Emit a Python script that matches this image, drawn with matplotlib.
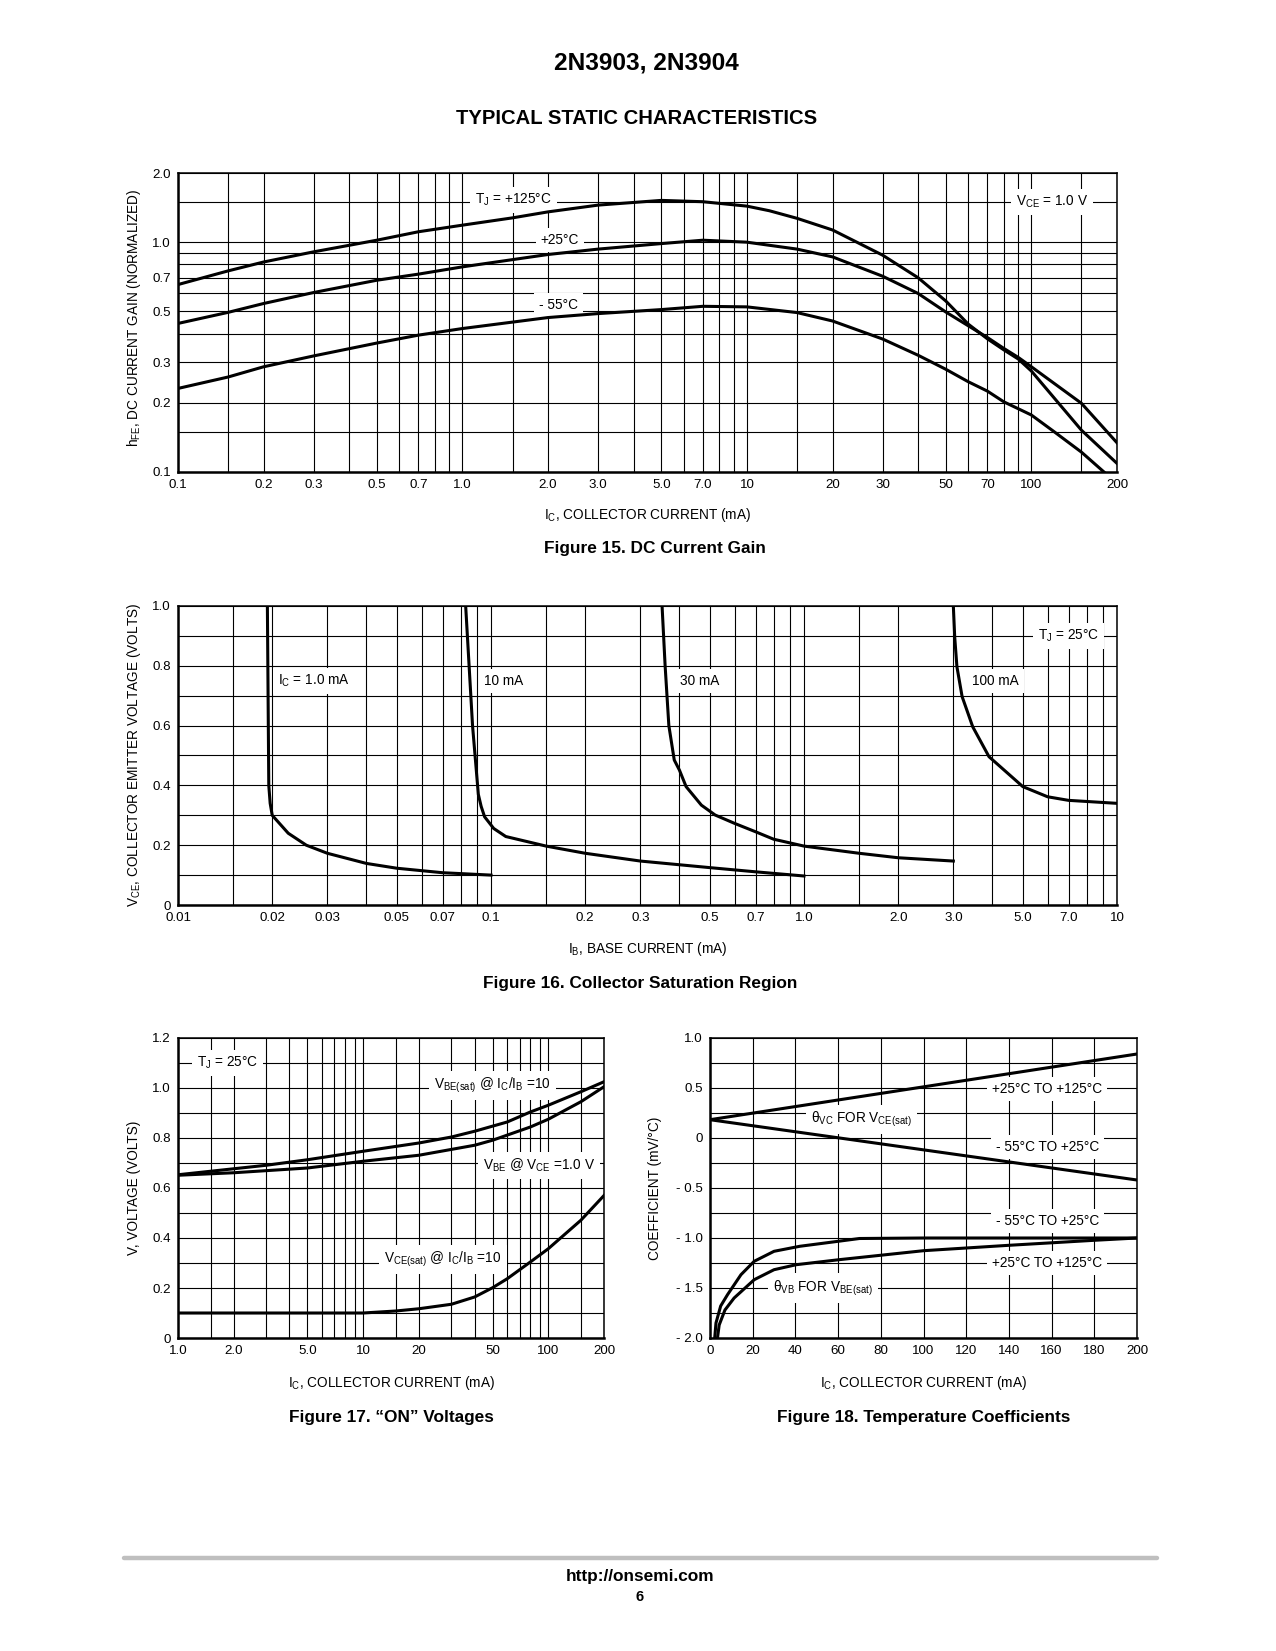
import matplotlib
matplotlib.use('Agg')
import matplotlib.pyplot as plt
from matplotlib import font_manager
from matplotlib.lines import Line2D
from matplotlib.ticker import NullFormatter

# ---------------- data ----------------
# Figure 15: DC current gain (normalized) vs collector current (mA)
ic15_125 = [0.1, 0.15, 0.2, 0.3, 0.5, 0.7, 1.0, 1.5, 2.0, 3.0, 5.0, 7.0, 10, 12, 15, 20, 30, 40, 50, 60, 70, 80, 90, 100, 150, 200]
hfe15_125 = [0.654, 0.75, 0.82, 0.908, 1.02, 1.11, 1.186, 1.276, 1.355, 1.45, 1.52, 1.50, 1.435, 1.37, 1.27, 1.13, 0.878, 0.70, 0.555, 0.44, 0.38, 0.34, 0.31, 0.275, 0.152, 0.109]
ic15_25 = [0.1, 0.15, 0.2, 0.3, 0.5, 0.7, 1.0, 2.0, 3.0, 5.0, 7.0, 10, 15, 20, 30, 40, 50, 70, 80, 90, 100, 150, 200]
hfe15_25 = [0.443, 0.495, 0.541, 0.604, 0.683, 0.726, 0.781, 0.884, 0.933, 0.986, 1.02, 1.00, 0.933, 0.863, 0.711, 0.598, 0.497, 0.385, 0.345, 0.315, 0.287, 0.199, 0.134]
ic15_m55 = [0.1, 0.15, 0.2, 0.3, 0.5, 0.7, 1.0, 2.0, 3.0, 5.0, 7.0, 10, 15, 20, 30, 40, 50, 60, 70, 80, 100, 120, 150, 180]
hfe15_m55 = [0.231, 0.259, 0.287, 0.320, 0.364, 0.394, 0.421, 0.470, 0.489, 0.509, 0.526, 0.523, 0.494, 0.454, 0.379, 0.322, 0.28, 0.247, 0.225, 0.202, 0.177, 0.150, 0.122, 0.100]
x15_ticks = [0.1, 0.2, 0.3, 0.5, 0.7, 1.0, 2.0, 3.0, 5.0, 7.0, 10, 20, 30, 50, 70, 100, 200]
x15_labels = ['0.1', '0.2', '0.3', '0.5', '0.7', '1.0', '2.0', '3.0', '5.0', '7.0', '10', '20', '30', '50', '70', '100', '200']
y15_ticks = [0.1, 0.2, 0.3, 0.5, 0.7, 1.0, 2.0]
y15_labels = ['0.1', '0.2', '0.3', '0.5', '0.7', '1.0', '2.0']
y15_grid = [0.1, 0.15, 0.2, 0.3, 0.4, 0.5, 0.6, 0.7, 0.8, 0.9, 1.0, 1.5, 2.0]

# Figure 16: V_CE (V) vs base current (mA)
ib16_1 = [0.0193, 0.0194, 0.0195, 0.0197, 0.020, 0.0225, 0.0257, 0.030, 0.040, 0.050, 0.070, 0.100]
vce16_1 = [1.0, 0.70, 0.40, 0.34, 0.30, 0.24, 0.20, 0.173, 0.139, 0.123, 0.108, 0.100]
ib16_10 = [0.083, 0.0873, 0.0911, 0.093, 0.0954, 0.102, 0.1115, 0.15, 0.2, 0.3, 0.5, 0.7, 1.0]
vce16_10 = [1.0, 0.60, 0.37, 0.33, 0.295, 0.256, 0.229, 0.197, 0.173, 0.147, 0.125, 0.111, 0.097]
ib16_30 = [0.352, 0.36, 0.37, 0.385, 0.40, 0.42, 0.47, 0.52, 0.6, 0.7, 0.8, 1.0, 1.5, 2.0, 3.0]
vce16_30 = [1.0, 0.80, 0.60, 0.485, 0.451, 0.396, 0.334, 0.301, 0.273, 0.245, 0.220, 0.197, 0.173, 0.158, 0.147]
ib16_100 = [3.0, 3.03, 3.08, 3.2, 3.46, 3.9, 5.0, 6.0, 7.0, 10.0]
vce16_100 = [1.0, 0.897, 0.797, 0.697, 0.596, 0.496, 0.396, 0.362, 0.35, 0.34]
x16_ticks = [0.01, 0.02, 0.03, 0.05, 0.07, 0.1, 0.2, 0.3, 0.5, 0.7, 1.0, 2.0, 3.0, 5.0, 7.0, 10]
x16_labels = ['0.01', '0.02', '0.03', '0.05', '0.07', '0.1', '0.2', '0.3', '0.5', '0.7', '1.0', '2.0', '3.0', '5.0', '7.0', '10']
y16_ticks = [0, 0.2, 0.4, 0.6, 0.8, 1.0]
y16_labels = ['0', '0.2', '0.4', '0.6', '0.8', '1.0']

# Figure 17: "ON" voltages vs collector current (mA)
ic17_vbesat = [1, 1.5, 3, 5, 10, 20, 30, 40, 60, 80, 100, 150, 200]
v17_vbesat = [0.653, 0.667, 0.691, 0.713, 0.747, 0.78, 0.804, 0.827, 0.864, 0.904, 0.931, 0.985, 1.025]
ic17_vbe = [1, 2, 5, 10, 20, 40, 50, 80, 100, 150, 200]
v17_vbe = [0.651, 0.661, 0.68, 0.707, 0.731, 0.771, 0.791, 0.844, 0.875, 0.945, 1.005]
ic17_vcesat = [1, 5, 10, 15, 20, 30, 40, 50, 60, 80, 100, 150, 200]
v17_vcesat = [0.10, 0.10, 0.10, 0.108, 0.117, 0.135, 0.164, 0.201, 0.237, 0.304, 0.357, 0.471, 0.57]
x17_ticks = [1.0, 2.0, 5.0, 10, 20, 50, 100, 200]
x17_labels = ['1.0', '2.0', '5.0', '10', '20', '50', '100', '200']
y17_ticks = [0, 0.2, 0.4, 0.6, 0.8, 1.0, 1.2]
y17_labels = ['0', '0.2', '0.4', '0.6', '0.8', '1.0', '1.2']

# Figure 18: temperature coefficients (mV/°C) vs collector current (mA)
ic18_vc = [0, 200]
th18_vc_hot = [0.183, 0.84]
th18_vc_cold = [0.183, -0.42]
ic18_vb_cold = [2.2, 2.8, 5, 8.2, 14.5, 20.7, 30, 42, 60, 70, 100, 150, 200]
th18_vb_cold = [-2.0, -1.85, -1.68, -1.567, -1.367, -1.233, -1.133, -1.083, -1.033, -1.005, -1.0, -1.0, -1.0]
ic18_vb_hot = [3.5, 4.3, 7, 11.3, 20.7, 30, 40.4, 60.4, 100, 140, 180, 200]
th18_vb_hot = [-2.0, -1.87, -1.72, -1.6, -1.417, -1.317, -1.267, -1.217, -1.127, -1.073, -1.023, -1.0]
x18_ticks = [0, 20, 40, 60, 80, 100, 120, 140, 160, 180, 200]
x18_labels = ['0', '20', '40', '60', '80', '100', '120', '140', '160', '180', '200']
y18_ticks = [-2.0, -1.5, -1.0, -0.5, 0, 0.5, 1.0]
y18_labels = ['- 2.0', '- 1.5', '- 1.0', '- 0.5', '0', '0.5', '1.0']

# ---------------- fonts ----------------
names = {f.name for f in font_manager.fontManager.ttflist}
NARROW = 'Liberation Sans Narrow' in names
BASE = 'Liberation Sans Narrow' if NARROW else 'Liberation Sans'
S = 1.2 if NARROW else 1.0
plt.rcParams['font.family'] = [BASE, 'DejaVu Sans']
FS_TICK = 9.6 * S
FS_LAB = 9.8 * S
FS_ANN = 9.8 * S
FS_CAP = 12.4 * S

W, H = 1276, 1651
DPI = 100
fig = plt.figure(figsize=(W / DPI, H / DPI), dpi=DPI)


def rect(l, t, r, b):
    return [l / W, 1 - b / H, (r - l) / W, (b - t) / H]


def fx(px):
    return px / W


def fy(py):
    return 1 - py / H


def decade_grid(lo, hi):
    vals = []
    d = lo
    while d < hi * 0.999:
        for m in [1, 1.5, 2, 3, 4, 5, 6, 7, 8, 9]:
            v = d * m
            if lo * 0.999 <= v <= hi * 1.001:
                vals.append(v)
        d *= 10
    vals.append(hi)
    return vals


def style(ax, xt, xl, xg, yt, yl, yg):
    ax.set_axisbelow(True)
    ax.set_xticks(xt)
    ax.set_xticklabels(xl)
    ax.set_xticks(xg, minor=True)
    ax.set_yticks(yt)
    ax.set_yticklabels(yl)
    ax.set_yticks(yg, minor=True)
    ax.xaxis.set_minor_formatter(NullFormatter())
    ax.yaxis.set_minor_formatter(NullFormatter())
    ax.grid(which='both', color='black', lw=0.8)
    ax.tick_params(which='both', length=0, labelsize=FS_TICK)
    ax.tick_params(axis='x', pad=5)
    ax.tick_params(axis='y', pad=5)
    for sp in ['left', 'bottom']:
        ax.spines[sp].set_linewidth(1.8)
    for sp in ['top', 'right']:
        ax.spines[sp].set_linewidth(1.1)


def curve(ax, x, y):
    ax.plot(x, y, color='black', lw=2.2, zorder=4, solid_joinstyle='round')


def lab(ax, x, y, s, ha='center'):
    ax.text(x, y, s, ha=ha, va='center', fontsize=FS_ANN, zorder=3,
            bbox=dict(facecolor='white', edgecolor='none', pad=3.5))


# titles
fig.text(fx(646), fy(63), '2N3903, 2N3904', ha='center', va='center',
         fontsize=17.6, fontweight='bold', family=['Liberation Sans', 'DejaVu Sans'])
fig.text(fx(637), fy(119), 'TYPICAL STATIC CHARACTERISTICS', ha='center', va='center',
         fontsize=14.6, fontweight='bold', family=['Liberation Sans', 'DejaVu Sans'])

# ---------------- Figure 15 ----------------
L1, R1 = 178, 1117
ax = fig.add_axes(rect(L1, 173, R1, 472))
ax.set_xscale('log')
ax.set_yscale('log')
ax.set_xlim(0.1, 200)
ax.set_ylim(0.1, 2.0)
style(ax, x15_ticks, x15_labels, decade_grid(0.1, 200), y15_ticks, y15_labels, y15_grid)
curve(ax, ic15_125, hfe15_125)
curve(ax, ic15_25, hfe15_25)
curve(ax, ic15_m55, hfe15_m55)
lab(ax, 1.51, 1.53, r'$\mathregular{T_J}$ = +125°C')
lab(ax, 2.2, 1.02, '+25°C')
lab(ax, 2.17, 0.532, '- 55°C')
lab(ax, 118, 1.5, r'$\mathregular{V_{CE}}$ = 1.0 V')
fig.text(fx(134), fy(318), r'$\mathregular{h_{FE}}$, DC CURRENT GAIN (NORMALIZED)', rotation=90,
         ha='center', va='center', fontsize=FS_LAB)
fig.text(fx((L1 + R1) / 2), fy(515), r'$\mathregular{I_C}$, COLLECTOR CURRENT (mA)',
         ha='center', va='center', fontsize=FS_LAB)
fig.text(fx(655), fy(548), 'Figure 15. DC Current Gain', ha='center', va='center',
         fontsize=FS_CAP, fontweight='bold')

# ---------------- Figure 16 ----------------
ax = fig.add_axes(rect(L1, 606, R1, 905))
ax.set_xscale('log')
ax.set_xlim(0.01, 10)
ax.set_ylim(0, 1.0)
style(ax, x16_ticks, x16_labels, decade_grid(0.01, 10), y16_ticks, y16_labels,
      [i / 10 for i in range(11)])
curve(ax, ib16_1, vce16_1)
curve(ax, ib16_10, vce16_10)
curve(ax, ib16_30, vce16_30)
curve(ax, ib16_100, vce16_100)
lab(ax, 0.0208, 0.75, r'$\mathregular{I_C}$ = 1.0 mA', ha='left')
lab(ax, 0.0948, 0.75, '10 mA', ha='left')
lab(ax, 0.402, 0.75, '30 mA', ha='left')
lab(ax, 3.45, 0.75, '100 mA', ha='left')
lab(ax, 7.0, 0.9, r'$\mathregular{T_J}$ = 25°C')
fig.text(fx(134), fy(755), r'$\mathregular{V_{CE}}$, COLLECTOR EMITTER VOLTAGE (VOLTS)', rotation=90,
         ha='center', va='center', fontsize=FS_LAB)
fig.text(fx((L1 + R1) / 2), fy(949), r'$\mathregular{I_B}$, BASE CURRENT (mA)',
         ha='center', va='center', fontsize=FS_LAB)
fig.text(fx(640), fy(983), 'Figure 16. Collector Saturation Region', ha='center', va='center',
         fontsize=FS_CAP, fontweight='bold')

# ---------------- Figure 17 ----------------
L3, R3 = 178, 604
ax = fig.add_axes(rect(L3, 1038, R3, 1338))
ax.set_xscale('log')
ax.set_xlim(1, 200)
ax.set_ylim(0, 1.2)
style(ax, x17_ticks, x17_labels, decade_grid(1, 200), y17_ticks, y17_labels,
      [i / 10 for i in range(13)])
curve(ax, ic17_vbesat, v17_vbesat)
curve(ax, ic17_vbe, v17_vbe)
curve(ax, ic17_vcesat, v17_vcesat)
lab(ax, 1.86, 1.10, r'$\mathregular{T_J}$ = 25°C')
lab(ax, 50, 1.01, r'$\mathregular{V_{BE(sat)}}$ @ $\mathregular{I_C/I_B}$ =10')
lab(ax, 178, 0.69, r'$\mathregular{V_{BE}}$ @ $\mathregular{V_{CE}}$ =1.0 V', ha='right')
lab(ax, 27, 0.315, r'$\mathregular{V_{CE(sat)}}$ @ $\mathregular{I_C/I_B}$ =10')
fig.text(fx(134), fy(1188), 'V, VOLTAGE (VOLTS)', rotation=90,
         ha='center', va='center', fontsize=FS_LAB)
fig.text(fx((L3 + R3) / 2), fy(1383), r'$\mathregular{I_C}$, COLLECTOR CURRENT (mA)',
         ha='center', va='center', fontsize=FS_LAB)
fig.text(fx((L3 + R3) / 2), fy(1417), 'Figure 17. \u201cON\u201d Voltages',
         ha='center', va='center', fontsize=FS_CAP, fontweight='bold')

# ---------------- Figure 18 ----------------
L4, R4 = 710, 1137
ax = fig.add_axes(rect(L4, 1038, R4, 1338))
ax.set_xlim(0, 200)
ax.set_ylim(-2.0, 1.0)
style(ax, x18_ticks, x18_labels, x18_ticks, y18_ticks, y18_labels,
      [-2.0 + 0.25 * i for i in range(13)])
curve(ax, ic18_vc, th18_vc_hot)
curve(ax, ic18_vc, th18_vc_cold)
curve(ax, ic18_vb_cold, th18_vb_cold)
curve(ax, ic18_vb_hot, th18_vb_hot)
lab(ax, 158, 0.49, '+25°C TO +125°C')
lab(ax, 158, -0.09, '- 55°C TO +25°C')
lab(ax, 158, -0.83, '- 55°C TO +25°C')
lab(ax, 158, -1.25, '+25°C TO +125°C')
lab(ax, 71, 0.183, r'$\mathregular{\theta_{VC}}$ FOR $\mathregular{V_{CE(sat)}}$')
lab(ax, 53, -1.5, r'$\mathregular{\theta_{VB}}$ FOR $\mathregular{V_{BE(sat)}}$')
fig.text(fx(655), fy(1188), 'COEFFICIENT (mV/°C)', rotation=90,
         ha='center', va='center', fontsize=FS_LAB)
fig.text(fx((L4 + R4) / 2), fy(1383), r'$\mathregular{I_C}$, COLLECTOR CURRENT (mA)',
         ha='center', va='center', fontsize=FS_LAB)
fig.text(fx((L4 + R4) / 2), fy(1417), 'Figure 18. Temperature Coefficients',
         ha='center', va='center', fontsize=FS_CAP, fontweight='bold')

# ---------------- footer ----------------
fig.add_artist(Line2D([fx(124), fx(1157)], [fy(1558), fy(1558)], color='#bfbfbf', lw=3.2,
                      transform=fig.transFigure, solid_capstyle='round'))
fig.text(fx(640), fy(1576), 'http://onsemi.com', ha='center', va='center',
         fontsize=12.4 * S, fontweight='bold')
fig.text(fx(640), fy(1597), '6', ha='center', va='center', fontsize=10.5 * S, fontweight='bold')

fig.savefig('out.png', dpi=DPI)
